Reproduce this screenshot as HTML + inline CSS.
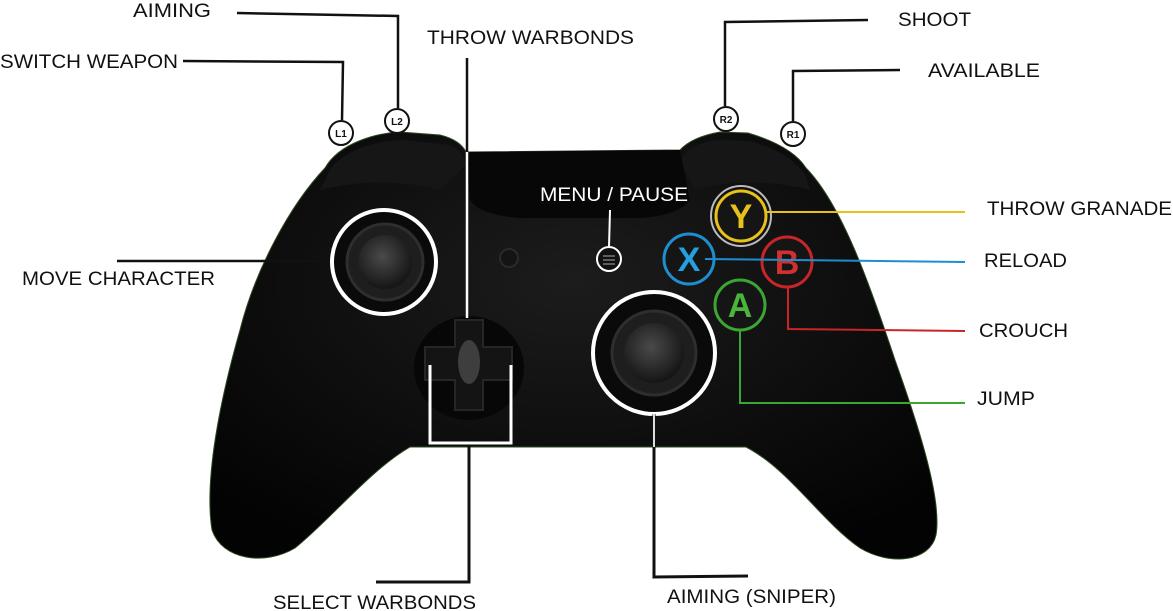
<!DOCTYPE html>
<html><head><meta charset="utf-8"><style>
html,body{margin:0;padding:0;background:#fff;}
svg{display:block}
text{font-family:"Liberation Sans",sans-serif;font-size:19px;fill:#111}
</style></head><body>
<svg width="1173" height="611" viewBox="0 0 1173 611" xmlns="http://www.w3.org/2000/svg">
<defs>
<radialGradient id="body" cx="0.5" cy="0.35" r="0.7">
<stop offset="0" stop-color="#1c1c1c"/><stop offset="0.6" stop-color="#0d0d0d"/><stop offset="1" stop-color="#030303"/>
</radialGradient>
<radialGradient id="stick" cx="0.45" cy="0.4" r="0.6">
<stop offset="0" stop-color="#4a4a4a"/><stop offset="1" stop-color="#151515"/>
</radialGradient>
</defs>
<path d="M325,168 C340,142 378,133 400,132 L440,135 Q460,140 466,152 L680,150 Q692,137 720,132 L748,133 Q792,146 806,168 C842,205 870,285 895,360 C920,430 942,500 936,535 C930,562 890,566 860,548 C820,520 790,470 746,447 L410,447 C370,470 330,520 295,548 C265,566 222,560 212,530 C204,480 220,400 240,330 C255,270 290,205 325,168 Z" fill="url(#body)" stroke="#2d4a1f" stroke-width="1"/>
<path d="M330,170 C345,148 380,140 405,140 L450,145 Q462,150 466,165 L440,190 C400,180 360,180 320,190 Z" fill="#161616"/>
<path d="M680,160 Q690,142 720,140 L750,141 Q790,152 805,175 L810,190 C770,180 730,180 695,190 Z" fill="#161616"/>
<path d="M466,152 L680,150 L690,200 Q680,215 640,218 L520,218 Q480,215 470,200 Z" fill="#070707"/>
<circle cx="384" cy="262" r="52" fill="#0a0a0a" stroke="#fff" stroke-width="4"/>
<circle cx="385" cy="262" r="38" fill="#1e1e1e" stroke="#2e2e2e" stroke-width="3"/>
<circle cx="385" cy="262" r="27" fill="url(#stick)"/>
<circle cx="654" cy="353" r="61" fill="#0a0a0a" stroke="#fff" stroke-width="4"/>
<circle cx="654" cy="353" r="42" fill="#1e1e1e" stroke="#2e2e2e" stroke-width="3"/>
<circle cx="654" cy="353" r="30" fill="url(#stick)"/>
<ellipse cx="469" cy="368" rx="55" ry="52" fill="#070707"/>
<path d="M455,320 L483,320 L483,347 L512,347 L512,380 L483,380 L483,410 L455,410 L455,380 L425,380 L425,347 L455,347 Z" fill="#141414" stroke="#262626" stroke-width="2"/>
<ellipse cx="469" cy="362" rx="11" ry="22" fill="#3e3e3e"/>
<circle cx="509" cy="258" r="9" fill="#141414" stroke="#2a2a2a" stroke-width="2"/>
<circle cx="609" cy="259" r="12" fill="#111" stroke="#fff" stroke-width="2"/>
<line x1="603" y1="256" x2="615" y2="256" stroke="#777" stroke-width="1.5"/>
<line x1="603" y1="260" x2="615" y2="260" stroke="#777" stroke-width="1.5"/>
<line x1="603" y1="264" x2="615" y2="264" stroke="#777" stroke-width="1.5"/>
<circle cx="741" cy="216" r="30" fill="none" stroke="#bbb" stroke-width="2"/>
<circle cx="741" cy="216" r="25" fill="#151515" stroke="#e8c21a" stroke-width="3"/>
<text x="741" y="228" text-anchor="middle" style="font-size:34px;font-weight:bold;fill:#e8c21a">Y</text>
<circle cx="689" cy="259" r="25" fill="#151515" stroke="#1e8ed0" stroke-width="3"/>
<text x="689" y="271" text-anchor="middle" style="font-size:34px;font-weight:bold;fill:#22a0e0">X</text>
<circle cx="787" cy="262" r="25" fill="#151515" stroke="#c82626" stroke-width="3"/>
<text x="787" y="274" text-anchor="middle" style="font-size:34px;font-weight:bold;fill:#d03030">B</text>
<circle cx="740" cy="305" r="25" fill="#151515" stroke="#3ca632" stroke-width="3"/>
<text x="740" y="317" text-anchor="middle" style="font-size:34px;font-weight:bold;fill:#49b53a">A</text>
<polyline points="767,212 965,212" fill="none" stroke="#e8c21a" stroke-width="2"/>
<polyline points="705,259 965,262" fill="none" stroke="#1e8ed0" stroke-width="2"/>
<polyline points="788,287 788,329 965,331" fill="none" stroke="#c82626" stroke-width="2"/>
<polyline points="740,330 740,403 965,403" fill="none" stroke="#3ca632" stroke-width="2"/>
<polyline points="237,13 398,16 398,108" fill="none" stroke="#111" stroke-width="2.5"/>
<polyline points="183,61 343,62 342,120" fill="none" stroke="#111" stroke-width="2.5"/>
<line x1="467" y1="58" x2="467" y2="152" stroke="#111" stroke-width="2.5"/>
<line x1="467" y1="152" x2="467" y2="318" stroke="#fff" stroke-width="2.5"/>
<polyline points="430,365 430,443 511,443 511,365" fill="none" stroke="#fff" stroke-width="3"/>
<polyline points="469,445 469,582 376,582" fill="none" stroke="#111" stroke-width="3"/>
<polyline points="654,414 654,577 748,576" fill="none" stroke="#111" stroke-width="3"/>
<line x1="654" y1="414" x2="654" y2="447" stroke="#ddd" stroke-width="2"/>
<line x1="610" y1="210" x2="609" y2="247" stroke="#fff" stroke-width="2"/>
<polyline points="868,20 725,22 725,106" fill="none" stroke="#111" stroke-width="2.5"/>
<polyline points="900,70 793,71 793,121" fill="none" stroke="#111" stroke-width="2.5"/>
<line x1="117" y1="261" x2="330" y2="261" stroke="#111" stroke-width="2.5"/>
<g text-anchor="middle">
<circle cx="341" cy="133" r="12" fill="#fff" stroke="#111" stroke-width="2"/><text x="341" y="137" style="font-size:10px;font-weight:bold">L1</text>
<circle cx="397" cy="121" r="12" fill="#fff" stroke="#111" stroke-width="2"/><text x="397" y="125" style="font-size:10px;font-weight:bold">L2</text>
<circle cx="726" cy="119" r="12" fill="#fff" stroke="#111" stroke-width="2"/><text x="726" y="123" style="font-size:10px;font-weight:bold">R2</text>
<circle cx="793" cy="134" r="12" fill="#fff" stroke="#111" stroke-width="2"/><text x="793" y="138" style="font-size:10px;font-weight:bold">R1</text>
</g>
<text x="133" y="17" textLength="78" lengthAdjust="spacingAndGlyphs">AIMING</text>
<text x="0" y="68" textLength="178" lengthAdjust="spacingAndGlyphs">SWITCH WEAPON</text>
<text x="427" y="44" textLength="207" lengthAdjust="spacingAndGlyphs">THROW WARBONDS</text>
<text x="540" y="201" textLength="148" lengthAdjust="spacingAndGlyphs" style="fill:#fff">MENU / PAUSE</text>
<text x="898" y="26" textLength="73" lengthAdjust="spacingAndGlyphs">SHOOT</text>
<text x="928" y="77" textLength="112" lengthAdjust="spacingAndGlyphs">AVAILABLE</text>
<text x="987" y="215" textLength="185" lengthAdjust="spacingAndGlyphs">THROW GRANADE</text>
<text x="984" y="267" textLength="83" lengthAdjust="spacingAndGlyphs">RELOAD</text>
<text x="979" y="337" textLength="89" lengthAdjust="spacingAndGlyphs">CROUCH</text>
<text x="977" y="405" textLength="58" lengthAdjust="spacingAndGlyphs">JUMP</text>
<text x="22" y="285" textLength="193" lengthAdjust="spacingAndGlyphs">MOVE CHARACTER</text>
<text x="273" y="609" textLength="203" lengthAdjust="spacingAndGlyphs">SELECT WARBONDS</text>
<text x="667" y="603" textLength="169" lengthAdjust="spacingAndGlyphs">AIMING (SNIPER)</text>
</svg>
</body></html>
